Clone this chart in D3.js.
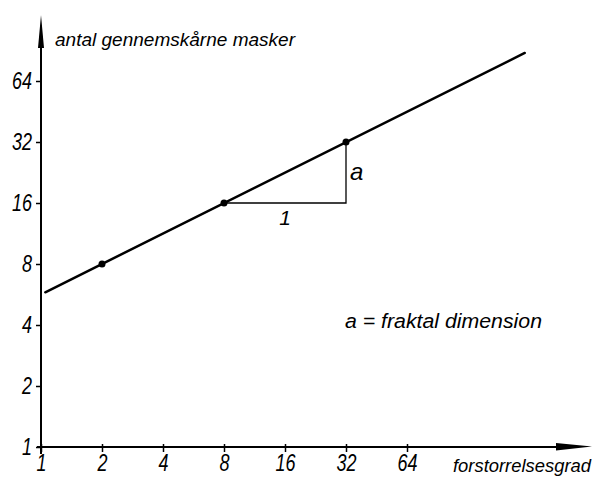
<!DOCTYPE html>
<html><head><meta charset="utf-8">
<script src="https://cdn.jsdelivr.net/npm/d3@7"></script>
<style>
html,body{margin:0;padding:0;background:#fff;}
text{font-family:"Liberation Sans",sans-serif;font-style:italic;fill:#000;}
</style></head>
<body>
<svg id="c" width="609" height="477"></svg>
<script>
// Data
const xTicks = [1, 2, 4, 8, 16, 32, 64];
const yTicks = [1, 2, 4, 8, 16, 32, 64];
const pointsX = [2, 8, 32];
const pointsY = [8, 16, 32];
const lineX = [1.05, 244];
const lineY = [5.8, 88];
const triX = [8, 32, 32];
const triY = [16, 16, 32];
const yTitle = "antal gennemskårne masker";
const xTitle = "forstorrelsesgrad";
const runLabel = "1";
const riseLabel = "a";
const note = "a = fraktal dimension";

const svg = d3.select("#c");
const x = d3.scaleLog().base(2).domain([1, 64]).range([41, 407]);
const y = d3.scaleLog().base(2).domain([1, 64]).range([447, 81]);

// axes lines with arrows
svg.append("line").attr("x1", 41).attr("x2", 41).attr("y1", 454).attr("y2", 40)
  .attr("stroke", "#000").attr("stroke-width", 2);
svg.append("path").attr("d", "M41,15 L44,48 L38,48 Z").attr("fill", "#000");
svg.append("line").attr("x1", 37).attr("x2", 560).attr("y1", 447).attr("y2", 447)
  .attr("stroke", "#000").attr("stroke-width", 2);
svg.append("path").attr("d", "M556,443 L592,446.5 L556,450.5 Z").attr("fill", "#000");

// y axis ticks
const ya = d3.axisLeft(y).tickValues(yTicks).tickFormat(d3.format("d")).tickSize(5).tickPadding(4);
const gy = svg.append("g").attr("transform", "translate(41,0)").call(ya);
gy.select(".domain").remove();
gy.selectAll(".tick line").attr("stroke", "#000").attr("stroke-width", 1.5);
gy.selectAll(".tick text").style("font-size", "24px").attr("font-family", null)
  .attr("textLength", d => String(d).length * 10).attr("lengthAdjust", "spacingAndGlyphs");

// x axis ticks
const xa = d3.axisBottom(x).tickValues(xTicks).tickFormat(d3.format("d")).tickSize(5).tickPadding(2);
const gx = svg.append("g").attr("transform", "translate(0,447)").call(xa);
gx.select(".domain").remove();
gx.selectAll(".tick line").attr("stroke", "#000").attr("stroke-width", 1.5).attr("y1", -3);
gx.selectAll(".tick text").style("font-size", "24px").attr("font-family", null)
  .attr("textLength", d => String(d).length * 10).attr("lengthAdjust", "spacingAndGlyphs");

// main line
svg.append("line")
  .attr("x1", x(lineX[0])).attr("y1", y(lineY[0]))
  .attr("x2", x(lineX[1])).attr("y2", y(lineY[1]))
  .attr("stroke", "#000").attr("stroke-width", 2.5).attr("stroke-linecap", "round");

// slope triangle
svg.append("path")
  .attr("d", d3.line().x(d => x(d[0])).y(d => y(d[1]))(triX.map((v, i) => [v, triY[i]])))
  .attr("fill", "none").attr("stroke", "#000").attr("stroke-width", 1.3);

// points
svg.selectAll("circle.p").data(pointsX.map((v, i) => [v, pointsY[i]])).enter()
  .append("circle").attr("cx", d => x(d[0])).attr("cy", d => y(d[1])).attr("r", 3.5).attr("fill", "#000");

// labels
svg.append("text").attr("x", 55).attr("y", 46).style("font-size", "18px")
  .attr("textLength", 240).attr("lengthAdjust", "spacingAndGlyphs").text(yTitle);
svg.append("text").attr("x", 453).attr("y", 472).style("font-size", "18px")
  .attr("textLength", 138).attr("lengthAdjust", "spacingAndGlyphs").text(xTitle);
svg.append("text").attr("x", (x(triX[0]) + x(triX[1])) / 2).attr("y", 225).style("font-size", "21px")
  .attr("text-anchor", "middle").text(runLabel);
svg.append("text").attr("x", x(triX[1]) + 4).attr("y", 180).style("font-size", "24px").text(riseLabel);
svg.append("text").attr("x", 345).attr("y", 328).style("font-size", "20px")
  .attr("textLength", 197).attr("lengthAdjust", "spacingAndGlyphs").text(note);
</script>
</body></html>
